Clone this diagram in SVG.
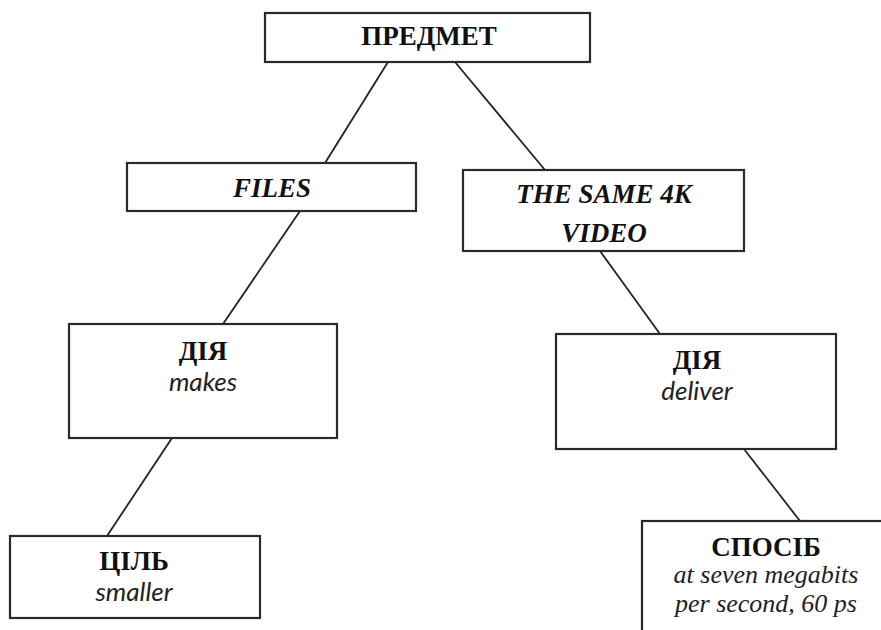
<svg xmlns="http://www.w3.org/2000/svg" width="881" height="630" viewBox="0 0 881 630">
<style>
.box{fill:#fff;stroke:#2a2a2a;stroke-width:2.2}
.con line{stroke:#222;stroke-width:1.8}
.h{font-family:"Liberation Serif","Times New Roman",serif;font-weight:bold;font-size:27px;fill:#111;text-anchor:middle}
.hi{font-family:"Liberation Serif","Times New Roman",serif;font-weight:bold;font-style:italic;font-size:27px;fill:#111;text-anchor:middle}
.s{font-family:Lato,"Liberation Sans",sans-serif;font-style:italic;font-size:26px;fill:#222;text-anchor:middle}
.si{font-family:"Liberation Serif","Times New Roman",serif;font-style:italic;font-size:26px;fill:#222;text-anchor:middle}
</style>
<rect width="881" height="630" fill="#fff"/>
<g class="con" id="connectors">
<line x1="388" y1="62" x2="325" y2="163"/>
<line x1="455" y1="62" x2="545" y2="170"/>
<line x1="300" y1="211" x2="223" y2="324"/>
<line x1="600" y1="251" x2="660" y2="334"/>
<line x1="172" y1="438" x2="107" y2="536"/>
<line x1="744" y1="449" x2="800" y2="521"/>
</g>
<g id="predmet">
<rect class="box" x="265" y="13" width="325" height="49"/>
<text class="h" x="429" y="45">ПРЕДМЕТ</text>
</g>
<g id="files">
<rect class="box" x="127" y="163" width="289" height="48"/>
<text class="hi" x="272" y="197">FILES</text>
</g>
<g id="video">
<rect class="box" x="463" y="170" width="281" height="81"/>
<text class="hi" x="604" y="203">THE SAME 4K</text>
<text class="hi" x="604" y="242">VIDEO</text>
</g>
<g id="dia1">
<rect class="box" x="69" y="324" width="268" height="114"/>
<text class="h" x="203" y="360">ДІЯ</text>
<text class="s" x="203" y="391">makes</text>
</g>
<g id="dia2">
<rect class="box" x="556" y="334" width="280" height="115"/>
<text class="h" x="697" y="369">ДІЯ</text>
<text class="s" x="697" y="400">deliver</text>
</g>
<g id="cil">
<rect class="box" x="10" y="536" width="250" height="82"/>
<text class="h" x="134" y="570">ЦІЛЬ</text>
<text class="s" x="134" y="601">smaller</text>
</g>
<g id="sposib">
<rect class="box" x="642" y="521" width="260" height="130"/>
<text class="h" x="766" y="556">СПОСІБ</text>
<text class="si" x="766" y="583">at seven megabits</text>
<text class="si" x="766" y="612">per second, 60 ps</text>
</g>
</svg>
